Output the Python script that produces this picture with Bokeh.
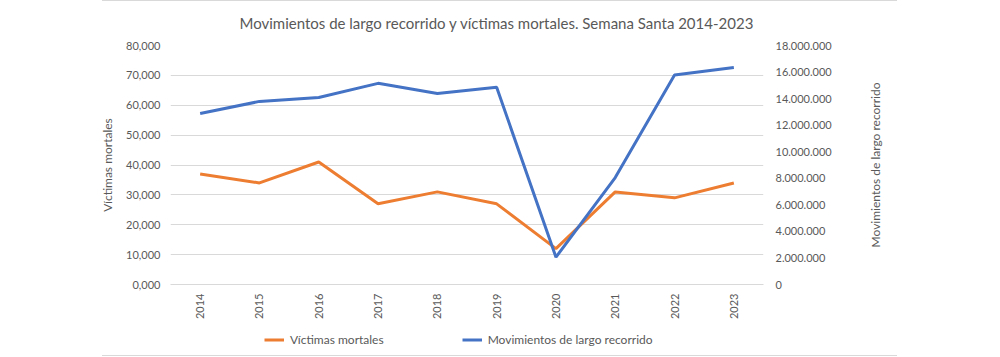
import math
from bokeh.plotting import figure
from bokeh.layouts import column, row
from bokeh.models import Range1d, LinearAxis, FixedTicker, Legend, LegendItem
from bokeh.embed import file_html
from bokeh.resources import INLINE

years = ["2014", "2015", "2016", "2017", "2018", "2019", "2020", "2021", "2022", "2023"]
victimas = [37, 34, 41, 27, 31, 27, 12, 31, 29, 34]
movimientos = [12880000, 13790000, 14090000, 15150000, 14390000, 14850000,
               2060000, 8050000, 15770000, 16350000]
left_ticks = [0, 10, 20, 30, 40, 50, 60, 70, 80]
left_tick_labels = ["0,000", "10,000", "20,000", "30,000", "40,000", "50,000",
                    "60,000", "70,000", "80,000"]
right_ticks = [0, 2000000, 4000000, 6000000, 8000000, 10000000, 12000000,
               14000000, 16000000, 18000000]
right_tick_labels = ["0", "2.000.000", "4.000.000", "6.000.000", "8.000.000",
                     "10.000.000", "12.000.000", "14.000.000", "16.000.000",
                     "18.000.000"]
series_names = ["Víctimas mortales", "Movimientos de largo recorrido"]
series_colors = ["#ED7D31", "#4472C4"]

FONT = "Lato"
GREY = "#595959"

p = figure(x_range=years, y_range=Range1d(0, 80), width=860, height=322,
           output_backend="svg", toolbar_location=None,
           min_border_left=170, min_border_right=97, min_border_top=45,
           min_border_bottom=38,
           title="Movimientos de largo recorrido  y víctimas mortales. Semana Santa 2014-2023")
p.extra_y_ranges = {"right": Range1d(0, 18000000)}
p.border_fill_alpha = 0

p.title.text_font = FONT
p.title.text_font_size = "15px"
p.title.text_font_style = "normal"
p.title.text_color = GREY
p.title.align = "left"
p.title.offset = 69
p.title.vertical_align = "top"
p.title.standoff = 23

p.outline_line_color = None
p.xgrid.grid_line_color = None
p.ygrid.grid_line_color = "#d9d9d9"
p.ygrid.grid_line_width = 1

# left axis
ya = p.yaxis[0]
ya.ticker = FixedTicker(ticks=left_ticks)
ya.major_label_overrides = dict(zip(left_ticks, left_tick_labels))
ya.axis_label = series_names[0]
ya.major_label_standoff = 10
ya.axis_label_standoff = 8

# right axis (ticks only; its title is drawn by the strip at the right)
ra = LinearAxis(y_range_name="right", ticker=FixedTicker(ticks=right_ticks))
ra.major_label_overrides = dict(zip(right_ticks, right_tick_labels))
ra.major_label_standoff = 12
p.add_layout(ra, "right")

xa = p.xaxis[0]
xa.major_label_orientation = math.pi / 2
xa.major_label_standoff = 9

# right-hand strip carrying the secondary axis title (reads bottom-to-top)
rf = figure(width=140, height=322, x_range=Range1d(0, 1), y_range=Range1d(0, 1),
            output_backend="svg", toolbar_location=None, x_axis_type=None,
            min_border_left=22, min_border_right=0, min_border_top=45,
            min_border_bottom=38)
rf.outline_line_color = None
rf.grid.grid_line_color = None
rf.border_fill_alpha = 0
rf.background_fill_alpha = 0
rta = rf.yaxis[0]
rta.ticker = FixedTicker(ticks=[])
rta.axis_label = series_names[1]
rta.axis_label_standoff = 0
rta.major_label_standoff = 0

for ax in (ya, ra, xa, rta):
    ax.axis_line_color = None
    ax.major_tick_line_color = None
    ax.minor_tick_line_color = None
    ax.major_tick_out = 0
    ax.major_tick_in = 0
    ax.minor_tick_out = 0
    ax.minor_tick_in = 0
    ax.major_label_text_font = FONT
    ax.major_label_text_font_size = "11px"
    ax.major_label_text_color = GREY
    ax.axis_label_text_font = FONT
    ax.axis_label_text_font_size = "12px"
    ax.axis_label_text_font_style = "normal"
    ax.axis_label_text_color = GREY
xa.axis_line_color = "#d9d9d9"

p.line(x=years, y=victimas, line_color=series_colors[0], line_width=3)
p.line(x=years, y=movimientos, line_color=series_colors[1], line_width=3,
       y_range_name="right")

# legend strip (separate figure below; same series drawn out of view)
lg = figure(x_range=years, y_range=Range1d(-2, -1), width=860, height=35,
            output_backend="svg", toolbar_location=None,
            min_border=0, x_axis_type=None, y_axis_type=None)
lg.outline_line_color = None
lg.grid.grid_line_color = None
lg.border_fill_alpha = 0
lg.background_fill_alpha = 0
l1 = lg.line(x=years, y=victimas, line_color=series_colors[0], line_width=3)
l2 = lg.line(x=years, y=movimientos, line_color=series_colors[1], line_width=3)
legend = Legend(items=[LegendItem(label=series_names[0], renderers=[l1]),
                       LegendItem(label=series_names[1], renderers=[l2])],
                orientation="horizontal", location=(94, 10))
legend.spacing = 78
legend.glyph_width = 20
legend.glyph_height = 15
legend.label_height = 15
legend.label_standoff = 6
legend.margin = 0
legend.padding = 4
legend.border_line_color = None
legend.background_fill_alpha = 0
legend.label_text_font = FONT
legend.label_text_font_size = "12px"
legend.label_text_color = GREY
lg.add_layout(legend, "center")

frame_lines = ("linear-gradient(#d9d9d9, #d9d9d9) 102px 0px / 795px 1px no-repeat, "
               "linear-gradient(#d9d9d9, #d9d9d9) 102px 355px / 795px 1px no-repeat, "
               "#ffffff")
layout = row(column(p, lg, spacing=0), rf, spacing=0,
             styles={"background": frame_lines})
open("out.html", "w").write(file_html(layout, INLINE))
